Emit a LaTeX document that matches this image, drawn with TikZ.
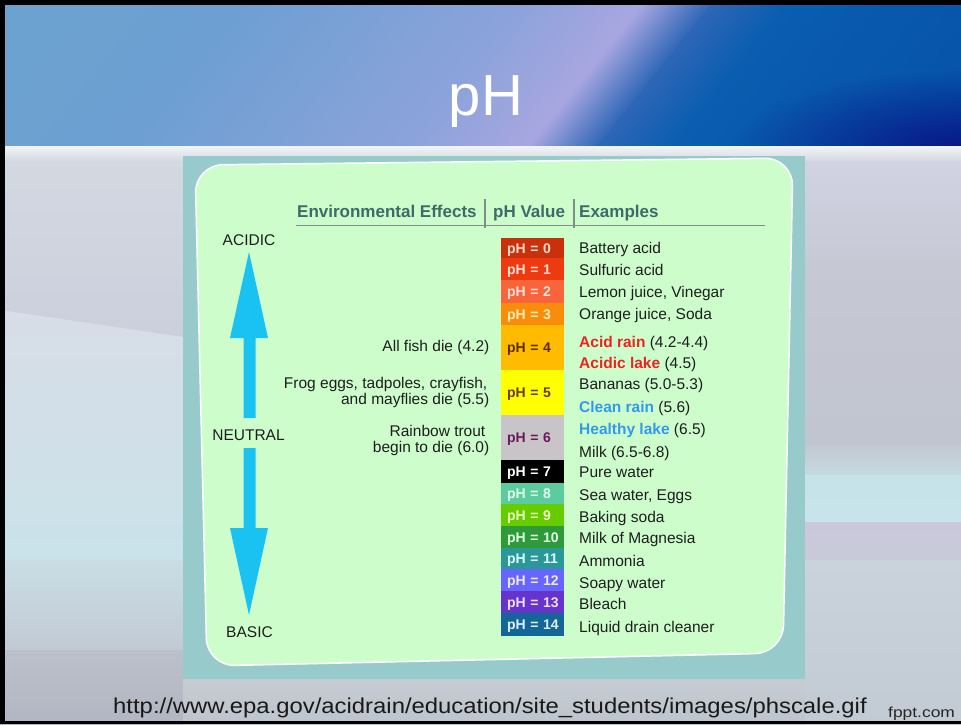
\documentclass[tikz,border=0pt]{standalone}
\usepackage{fontspec}
\usepackage{graphicx}
\setmainfont{Liberation Sans}
\usetikzlibrary{fadings}
\definecolor{basebg}{HTML}{C8CCD6}
\definecolor{arrowc}{HTML}{1AC2F2}
\definecolor{greenbox}{HTML}{CCFDCB}
\definecolor{tealbox}{HTML}{97CBCB}
\definecolor{hdrtxt}{HTML}{3D6B6A}
\definecolor{rulec}{HTML}{7D8E8C}
\definecolor{txt}{HTML}{1E1E1E}
\definecolor{redtxt}{HTML}{EE2222}
\definecolor{bluetxt}{HTML}{3399EE}
\definecolor{hA}{HTML}{6AA4CC}
\definecolor{hB}{HTML}{6D9FD3}
\definecolor{hC}{HTML}{8BA3DA}
\definecolor{hD}{HTML}{A8A6E0}
\definecolor{hE}{HTML}{2E66B6}
\definecolor{hF}{HTML}{0A5DB0}
\definecolor{hG}{HTML}{0450A8}
\definecolor{navyc}{HTML}{081686}
% pH box colours
\definecolor{c0}{HTML}{C8310C}\definecolor{t0}{HTML}{FFD8C8}
\definecolor{c1}{HTML}{EE3A10}\definecolor{t1}{HTML}{FFE0D8}
\definecolor{c2}{HTML}{F8643C}\definecolor{t2}{HTML}{FFE4D8}
\definecolor{c3}{HTML}{FA8C0C}\definecolor{t3}{HTML}{FFEEB0}
\definecolor{c4}{HTML}{FFBB00}\definecolor{t4}{HTML}{5A2A00}
\definecolor{c5}{HTML}{FFFF00}\definecolor{t5}{HTML}{6A3A10}
\definecolor{c6}{HTML}{C8C4C8}\definecolor{t6}{HTML}{6A1A5A}
\definecolor{c7}{HTML}{000000}\definecolor{t7}{HTML}{FFFFFF}
\definecolor{c8}{HTML}{5CCCA0}\definecolor{t8}{HTML}{E0FFF0}
\definecolor{c9}{HTML}{66CC00}\definecolor{t9}{HTML}{F0FFC0}
\definecolor{c10}{HTML}{2E9A3A}\definecolor{t10}{HTML}{E0FFE0}
\definecolor{c11}{HTML}{2A9898}\definecolor{t11}{HTML}{E0FFFF}
\definecolor{c12}{HTML}{6666FF}\definecolor{t12}{HTML}{F0E8FF}
\definecolor{c13}{HTML}{6633CC}\definecolor{t13}{HTML}{F0E0FF}
\definecolor{c14}{HTML}{146699}\definecolor{t14}{HTML}{E0F0FF}
\tikzfading[name=cornerfade, inner color=transparent!0, outer color=transparent!100]
\tikzset{
  body/.style={font=\fontsize{15.5}{18}\selectfont, text=txt, inner sep=0pt},
  ex/.style={body, anchor=base west},
  eff/.style={body, anchor=base east},
  scal/.style={body, anchor=base},
  colhead/.style={font=\bfseries\fontsize{17}{20}\selectfont, text=hdrtxt, inner sep=0pt, anchor=base west},
  phbox/.style={rectangle, draw=none, inner xsep=0pt, inner ysep=0pt, outer sep=0pt,
    minimum width=63pt, text width=63pt, align=left, text height=10pt, text depth=0pt,
    font=\bfseries\fontsize{14}{16}\selectfont},
  tablerule/.style={draw=rulec, line width=1.4pt},
  bigarrow/.style={fill=arrowc, draw=none},
}
\newcommand{\phlab}[1]{\hspace*{6pt}pH = #1}
\begin{document}
\begin{tikzpicture}[x=1pt,y=-1pt]
\useasboundingbox (0,0) rectangle (961,724);
\clip (0,0) rectangle (961,724);
% ---------- background ----------
\fill[basebg] (0,0) rectangle (961,724);
% left panel
\shade[top color={rgb,255:red,211;green,217;blue,225}, bottom color={rgb,255:red,203;green,207;blue,220}] (0,155) rectangle (184,340);
\shade[top color={rgb,255:red,216;green,221;blue,231}, bottom color={rgb,255:red,207;green,224;blue,232}] (0,310) -- (184,337) -- (184,471) -- (0,471) -- cycle;
\shade[top color={rgb,255:red,207;green,224;blue,232}, bottom color={rgb,255:red,201;green,226;blue,234}] (0,470) rectangle (184,561);
\shade[top color={rgb,255:red,201;green,221;blue,229}, bottom color={rgb,255:red,194;green,202;blue,212}] (0,560) rectangle (184,651);
\shade[top color={rgb,255:red,188;green,192;blue,202}, bottom color={rgb,255:red,178;green,182;blue,194}] (0,650) rectangle (184,724);
% right panel
\shade[top color={rgb,255:red,210;green,211;blue,227}, bottom color={rgb,255:red,199;green,201;blue,214}] (804,155) rectangle (961,261);
\shade[top color={rgb,255:red,198;green,200;blue,211}, bottom color={rgb,255:red,193;green,197;blue,207}] (804,260) rectangle (961,446);
\shade[top color={rgb,255:red,194;green,200;blue,209}, bottom color={rgb,255:red,197;green,219;blue,226}] (804,445) rectangle (961,476);
\shade[top color={rgb,255:red,198;green,227;blue,234}, bottom color={rgb,255:red,200;green,228;blue,234}] (804,475) rectangle (961,523);
\shade[top color={rgb,255:red,204;green,200;blue,220}, bottom color={rgb,255:red,200;green,202;blue,216}] (804,522) rectangle (961,561);
\shade[top color={rgb,255:red,202;green,210;blue,220}, bottom color={rgb,255:red,194;green,202;blue,212}] (804,560) rectangle (961,724);
% bottom strip
\shade[top color={rgb,255:red,198;green,204;blue,212}, bottom color={rgb,255:red,190;green,196;blue,204}] (183,678) rectangle (805,724);
% whitish strip under header
\shade[top color={rgb,255:red,244;green,246;blue,248}, bottom color={rgb,255:red,214;green,218;blue,226}] (0,145) rectangle (961,160);
% ---------- header ----------
\begin{scope}
  \clip (0,0) rectangle (961,145);
  \begin{scope}[transform canvas={xslant=0.8}]
    \shade[left color=hA, right color=hB] (-60,-5) rectangle (241,150);
    \shade[left color=hB, right color=hC] (240,-5) rectangle (521,150);
    \shade[left color=hC, right color=hD] (520,-5) rectangle (646,150);
    \shade[left color=hD, right color=hE] (645,-5) rectangle (716,150);
    \shade[left color=hE, right color=hF] (715,-5) rectangle (791,150);
    \shade[left color=hF, right color=hG] (790,-5) rectangle (1120,150);
  \end{scope}
  \fill[navyc, path fading=cornerfade] (961,150) ellipse (230 and 80);
\end{scope}
\node[font=\fontsize{58}{60}\selectfont, text=white, anchor=base, inner sep=0pt] (title) at (486,115) {pH};
% ---------- picture frame ----------
\fill[tealbox] (183,156) rectangle (805,679);
\filldraw[fill=greenbox, draw=white, line width=1.5pt, rounded corners=28pt]
  (494,161.5) -- (793,158) -- (783,653) -- (207,666) -- (195,165) -- cycle;
% ---------- column heads ----------
\node[colhead] (hEnv) at (297,217) {Environmental Effects};
\node[colhead] (hPH) at (493,217) {pH Value};
\node[colhead] (hEx) at (579,217) {Examples};
\draw[tablerule] (296,225.5) -- (765,225.5);
\draw[tablerule] (485,199) -- (485,228);
\draw[tablerule] (574,199) -- (574,228);
% ---------- scale arrows ----------
\node[scal] (acidic) at (249,245) {ACIDIC};
\node[scal] (neutral) at (248.5,440) {NEUTRAL};
\node[scal] (basic) at (249.5,637) {BASIC};
\fill[bigarrow] (249,252) -- (268,338) -- (255.5,338) -- (255.5,418) -- (243.5,418) -- (243.5,338) -- (230,338) -- cycle;
\fill[bigarrow] (243.5,448) -- (255.5,448) -- (255.5,528) -- (268,528) -- (249,615) -- (230,528) -- (243.5,528) -- cycle;
% ---------- environmental effects ----------
\node[eff] (eFish) at (489.5,351) {All fish die (4.2)};
\node[eff] (eFrogA) at (487.5,388) {Frog eggs, tadpoles, crayfish,};
\node[eff] (eFrogB) at (489.5,404) {and mayflies die (5.5)};
\node[eff] (eTroutA) at (485.5,436) {Rainbow trout};
\node[eff] (eTroutB) at (489.5,452) {begin to die (6.0)};
% ---------- pH boxes ----------
\node[phbox, fill=c0, text=t0, minimum height=20pt] (p0) at (532.5,248) {\phlab{0}};
\node[phbox, fill=c1, text=t1, minimum height=22pt] (p1) at (532.5,269) {\phlab{1}};
\node[phbox, fill=c2, text=t2, minimum height=23pt] (p2) at (532.5,291.5) {\phlab{2}};
\node[phbox, fill=c3, text=t3, minimum height=22pt] (p3) at (532.5,314) {\phlab{3}};
\node[phbox, fill=c4, text=t4, minimum height=45pt] (p4) at (532.5,347.5) {\phlab{4}};
\node[phbox, fill=c5, text=t5, minimum height=45pt] (p5) at (532.5,392.5) {\phlab{5}};
\node[phbox, fill=c6, text=t6, minimum height=45pt] (p6) at (532.5,437.5) {\phlab{6}};
\node[phbox, fill=c7, text=t7, minimum height=23pt] (p7) at (532.5,471.5) {\phlab{7}};
\node[phbox, fill=c8, text=t8, minimum height=21pt] (p8) at (532.5,493.5) {\phlab{8}};
\node[phbox, fill=c9, text=t9, minimum height=22pt] (p9) at (532.5,515) {\phlab{9}};
\node[phbox, fill=c10, text=t10, minimum height=22pt] (p10) at (532.5,537) {\phlab{10}};
\node[phbox, fill=c11, text=t11, minimum height=21pt] (p11) at (532.5,558.5) {\phlab{11}};
\node[phbox, fill=c12, text=t12, minimum height=22pt] (p12) at (532.5,580) {\phlab{12}};
\node[phbox, fill=c13, text=t13, minimum height=22pt] (p13) at (532.5,602) {\phlab{13}};
\node[phbox, fill=c14, text=t14, minimum height=23pt] (p14) at (532.5,624.5) {\phlab{14}};
% ---------- examples ----------
\node[ex] (x0) at (579,253.5) {Battery acid};
\node[ex] (x1) at (579,275.5) {Sulfuric acid};
\node[ex] (x2) at (579,297.5) {Lemon juice, Vinegar};
\node[ex] (x3) at (579,319.5) {Orange juice, Soda};
\node[ex] (x4a) at (579,347) {{\color{redtxt}\bfseries Acid rain} (4.2-4.4)};
\node[ex] (x4b) at (579,368.5) {{\color{redtxt}\bfseries Acidic lake} (4.5)};
\node[ex] (x5a) at (579,389.5) {Bananas (5.0-5.3)};
\node[ex] (x5b) at (579,412.5) {{\color{bluetxt}\bfseries Clean rain} (5.6)};
\node[ex] (x6a) at (579,434.5) {{\color{bluetxt}\bfseries Healthy lake} (6.5)};
\node[ex] (x6b) at (579,457.5) {Milk (6.5-6.8)};
\node[ex] (x7) at (579,477.5) {Pure water};
\node[ex] (x8) at (579,500.5) {Sea water, Eggs};
\node[ex] (x9) at (579,522.5) {Baking soda};
\node[ex] (x10) at (579,543.5) {Milk of Magnesia};
\node[ex] (x11) at (579,566.5) {Ammonia};
\node[ex] (x12) at (579,588.5) {Soapy water};
\node[ex] (x13) at (579,609.5) {Bleach};
\node[ex] (x14) at (579,632.5) {Liquid drain cleaner};
% ---------- footer ----------
\node[font=\fontsize{21.5}{24}\selectfont, text=black!90, anchor=base west, inner sep=0pt] (url) at (113,713)
  {\scalebox{1.11}[1]{http://www.epa.gov/acidrain/education/site\_students/images/phscale.gif}};
\node[font=\fontsize{14.5}{17}\selectfont, text=black!85, anchor=base west, inner sep=0pt] (fppt) at (888,717)
  {\scalebox{1.2}[1]{fppt.com}};
% ---------- slide border ----------
\fill[black] (0,0) rectangle (961,5);
\fill[black] (0,0) rectangle (4.5,724);
\fill[black] (0,721) rectangle (961,724);
\end{tikzpicture}
\end{document}
